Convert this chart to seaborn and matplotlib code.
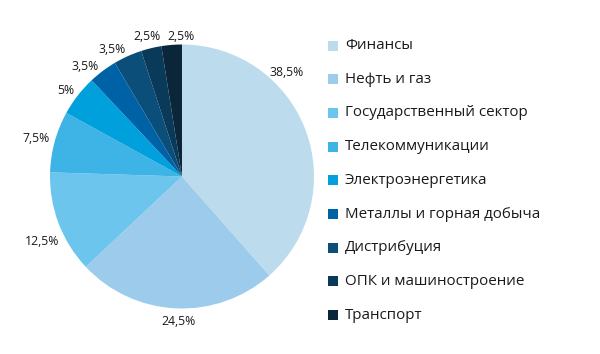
import matplotlib
matplotlib.use("Agg")
import matplotlib.pyplot as plt
import seaborn as sns
from matplotlib.patches import Rectangle

sns.set_style("white")
plt.rcParams['font.family'] = ['Open Sans', 'DejaVu Sans']

categories = ["Финансы", "Нефть и газ", "Государственный сектор", "Телекоммуникации",
              "Электроэнергетика", "Металлы и горная добыча", "Дистрибуция",
              "ОПК и машиностроение", "Транспорт"]
values = [38.5, 24.5, 12.5, 7.5, 5, 3.5, 3.5, 2.5, 2.5]
value_labels = ["38,5%", "24,5%", "12,5%", "7,5%", "5%", "3,5%", "3,5%", "2,5%", "2,5%"]
colors = ["#bcdcee", "#9dcbeb", "#6cc5ec", "#3db3e6", "#00a0dc",
          "#0062a6", "#0b4e7a", "#093a5a", "#0b2638"]

# label positions in units of pie radius
label_pos = [(0.79, 0.79), (-0.03, -1.10), (-1.06, -0.49), (-1.106, 0.29),
             (-0.88, 0.65), (-0.735, 0.83), (-0.53, 0.96), (-0.265, 1.064), (-0.008, 1.064)]

W, H = 600, 354
fig = plt.figure(figsize=(6, 3.54), dpi=100)
cx, cy, R = 182, 354 - 176.5, 132
ax = fig.add_axes([(cx - R) / W, (cy - R) / H, 2 * R / W, 2 * R / H])
ax.pie(values, colors=colors, startangle=90, counterclock=False,
       wedgeprops=dict(linewidth=0))
ax.set_xlim(-1, 1)
ax.set_ylim(-1, 1)
ax.set_aspect('equal')
for (x, y), t in zip(label_pos, value_labels):
    ax.text(x, y, t, ha='center', va='center', fontsize=8.8, color='#1a1a1a', clip_on=False)

# legend
y0, dy = 45.5, 33.7
for i, (c, col) in enumerate(zip(categories, colors)):
    yc = y0 + i * dy
    fig.add_artist(Rectangle((328 / W, (H - yc - 5) / H), 10 / W, 10 / H,
                             transform=fig.transFigure, facecolor=col, edgecolor='none'))
    fig.text(345 / W, (H - yc) / H, c, ha='left', va='center', fontsize=10.9, color='#1a1a1a')

fig.savefig("out.png", dpi=100)
